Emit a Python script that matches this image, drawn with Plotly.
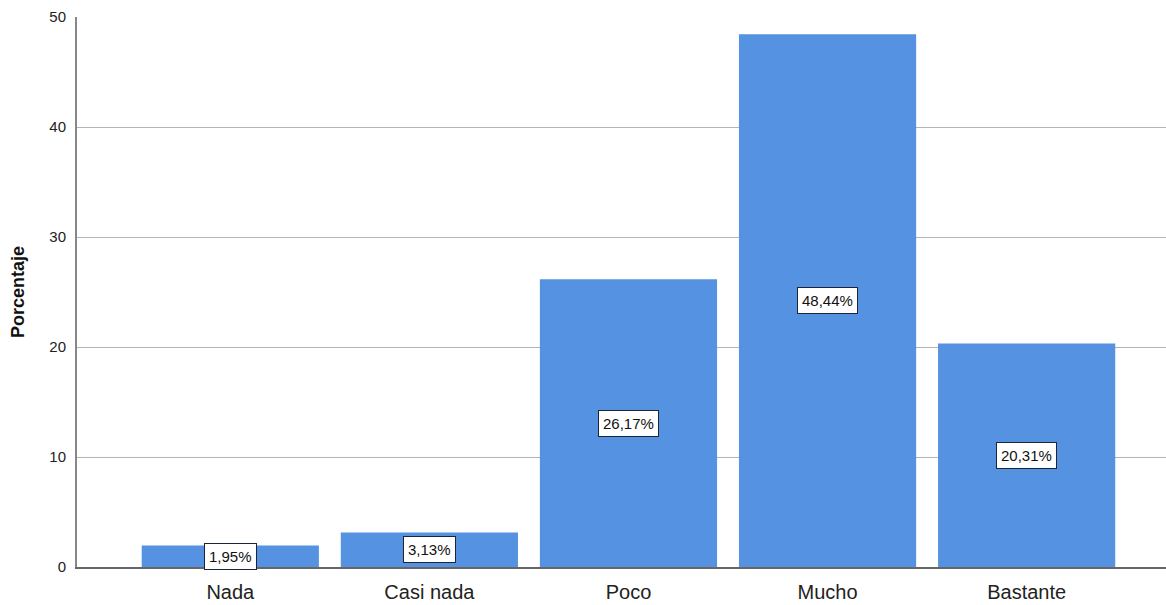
import plotly.graph_objects as go

categories = ["Nada", "Casi nada", "Poco", "Mucho", "Bastante"]
values = [1.95, 3.13, 26.17, 48.44, 20.31]
labels = ["1,95%", "3,13%", "26,17%", "48,44%", "20,31%"]
y_ticks = [0, 10, 20, 30, 40, 50]

bar_color = "rgb(85,146,225)"

fig = go.Figure()
fig.add_trace(go.Bar(
    x=categories, y=values, marker=dict(color=bar_color, line=dict(width=0)),
    width=0.89, showlegend=False,
))

for c, v, t in zip(categories, values, labels):
    fig.add_annotation(
        x=c, y=v / 2, text=t, showarrow=False,
        font=dict(family="Liberation Sans, Arial", size=15, color="#111"),
        bgcolor="white", bordercolor="#1c2535", borderwidth=1, borderpad=4,
    )

fig.update_layout(
    width=1166, height=605,
    margin=dict(l=77, r=0, t=17, b=38, autoexpand=False),
    plot_bgcolor="white", paper_bgcolor="white",
    font=dict(family="Liberation Sans, Arial", color="#222"),
    xaxis=dict(
        type="category", range=[-0.77, 4.70], automargin=False,
        showline=True, linecolor="#666", linewidth=2,
        showgrid=False, ticks="", tickfont=dict(size=20, color="#222"),
        ticklabelstandoff=6,
    ),
    yaxis=dict(
        range=[0, 50], tickvals=y_ticks, automargin=False,
        showline=True, linecolor="#888", linewidth=2,
        showgrid=True, gridcolor="#b4b4b4", gridwidth=1,
        zeroline=False, ticks="", tickfont=dict(size=15, color="#222"),
        ticklabelstandoff=6,
        title=dict(text="<b>Porcentaje</b>", font=dict(size=18, color="#111"), standoff=20),
    ),
    bargap=0.11,
)

fig.write_html(
    "out.html",
    config={"displayModeBar": False},
    post_script="document.body.style.margin='0';document.body.style.overflow='hidden';",
)
